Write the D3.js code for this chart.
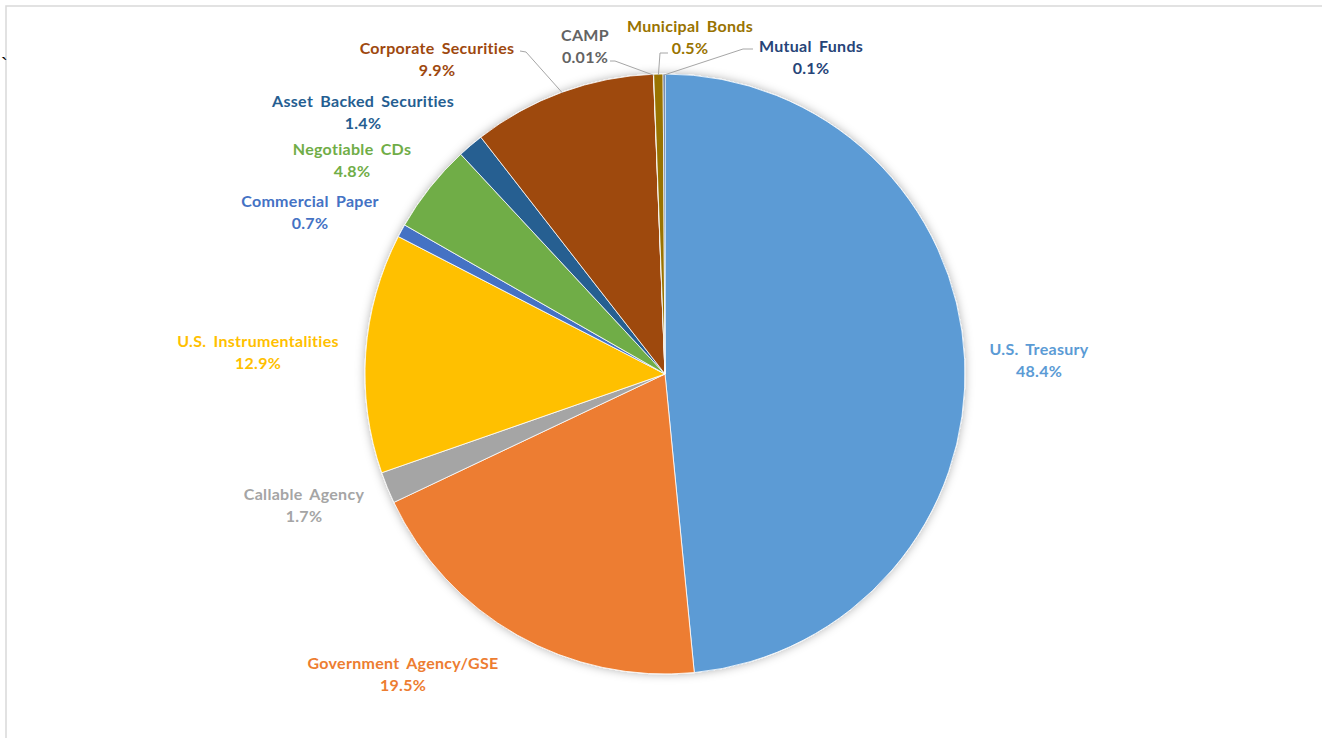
<!DOCTYPE html>
<html>
<head>
<meta charset="utf-8">
<script src="https://cdn.jsdelivr.net/npm/d3@7"></script>
<style>
  body { margin: 0; background: #fff; }
  svg { display: block; }
</style>
</head>
<body>
<script>
const categories = ["U.S. Treasury", "Government Agency/GSE", "Callable Agency",
  "U.S. Instrumentalities", "Commercial Paper", "Negotiable CDs",
  "Asset Backed Securities", "Corporate Securities", "CAMP",
  "Municipal Bonds", "Mutual Funds"];
const shares = [48.4, 19.5, 1.7, 12.9, 0.7, 4.8, 1.4, 9.9, 0.01, 0.5, 0.1];
const pctLabels = ["48.4%", "19.5%", "1.7%", "12.9%", "0.7%", "4.8%", "1.4%",
  "9.9%", "0.01%", "0.5%", "0.1%"];
const colors = ["#5b9bd5", "#ed7d31", "#a5a5a5", "#ffc000", "#4472c4", "#70ad47",
  "#255e91", "#9e480e", "#636363", "#997300", "#264478"];

// label anchor (center of the two-line label) placed by hand like excel does
const labelAt = [[1039, 360], [403, 674], [304, 505], [258, 352], [310, 212],
  [352, 160], [363, 112], [437, 59], [585, 46], [690, 37], [811, 57]];
// leader lines: [from label, elbow], end point is on the pie rim
const leaders = {7: [[520, 51], [526, 52]], 8: [[610, 61], [615, 61]],
  9: [[668, 53], [660, 53]], 10: [[753, 49], [743, 49]]};

const w = 1322, h = 738;
const cx = 665, cy = 374, r = 300;

const svg = d3.select("body").append("svg")
  .attr("width", w).attr("height", h);

let defs = svg.append("defs");
defs.append("filter").attr("id", "shadow")
  .attr("x", "-20%").attr("y", "-20%").attr("width", "140%").attr("height", "140%")
  .append("feDropShadow")
  .attr("dx", 0).attr("dy", 0).attr("stdDeviation", 5)
  .attr("flood-color", "#000").attr("flood-opacity", 0.3);

// chart border (only top/left inside the window)
svg.append("rect")
  .attr("x", 6).attr("y", 6).attr("width", w + 20).attr("height", h + 20)
  .attr("fill", "none").attr("stroke", "#d9d9d9").attr("stroke-width", 1.5);

svg.append("text").attr("x", 1).attr("y", 72)
  .attr("font-family", "Liberation Sans").attr("font-size", 20).text("`");

const data = categories.map((c, i) => ({name: c, value: shares[i], i}));
const pie = d3.pie().sort(null).value(d => d.value);
const arcs = pie(data);
const arc = d3.arc().innerRadius(0).outerRadius(r);

const g = svg.append("g").attr("transform", `translate(${cx},${cy})`);
g.append("g").attr("filter", "url(#shadow)")
  .selectAll("path")
  .data(arcs)
  .join("path")
  .attr("d", arc)
  .attr("fill", d => colors[d.data.i])
  .attr("stroke", "#fff")
  .attr("stroke-width", 0.8);

// leader lines
Object.entries(leaders).forEach(([k, pts]) => {
  let a = arcs[+k];
  let mid = (a.startAngle + a.endAngle) / 2;
  let end = [cx + Math.sin(mid) * (r - 1), cy - Math.cos(mid) * (r - 1)];
  svg.append("path")
    .attr("d", d3.line()([...pts, end]))
    .attr("fill", "none")
    .attr("stroke", "#a6a6a6")
    .attr("stroke-width", 1);
});

const labels = svg.append("g")
  .attr("font-family", "Lato, 'Open Sans', sans-serif")
  .attr("font-weight", "bold")
  .attr("font-size", 16)
  .attr("letter-spacing", "0.3px")
  .attr("text-anchor", "middle");

labels.selectAll("g")
  .data(data)
  .join("g")
  .attr("transform", d => `translate(${labelAt[d.i][0]},${labelAt[d.i][1]})`)
  .attr("fill", d => colors[d.i])
  .each(function (d) {
    let s = d3.select(this);
    s.append("text").attr("y", -5).text(d.name).attr("word-spacing", "3px");
    s.append("text").attr("y", 17).text(pctLabels[d.i]);
  });
</script>
</body>
</html>
